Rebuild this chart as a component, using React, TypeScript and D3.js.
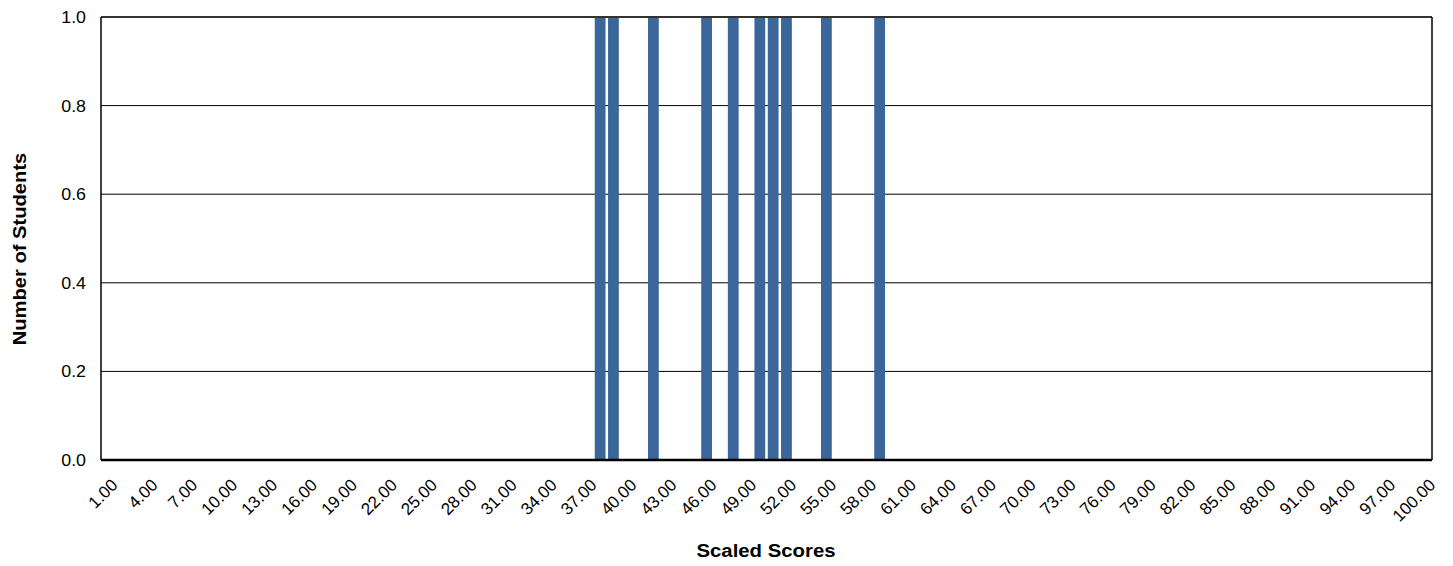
import React from "react";
import * as d3 from "d3";

const categories: number[] = Array.from({ length: 100 }, (_, i) => i + 1);
const barScores: number[] = [38, 39, 42, 46, 48, 50, 51, 52, 55, 59];
const barValues: number[] = [1, 1, 1, 1, 1, 1, 1, 1, 1, 1];
const yTicks: number[] = [0, 0.2, 0.4, 0.6, 0.8, 1.0];
const xTickLabels: number[] = categories.filter((c) => (c - 1) % 3 === 0);

const W = 1453;
const H = 566;
const M = { left: 101, right: 1432, top: 17, bottom: 460 };

export default function App() {
  const xc = d3.scaleBand<number>().domain(categories).range([M.left, M.right]);
  const y = d3.scaleLinear().domain([0, 1]).range([M.bottom, M.top]);
  const font = "'Liberation Sans', Arial, sans-serif";
  const barW = xc.bandwidth() * 0.81;

  return (
    <svg
      width={W}
      height={H}
      style={{ position: "absolute", left: 0, top: 0, background: "#fff" }}
      fontFamily={font}
    >
      {/* gridlines */}
      {yTicks.slice(1, -1).map((t) => (
        <line key={t} x1={M.left} x2={M.right} y1={y(t)} y2={y(t)} stroke="#000" strokeWidth={1} />
      ))}
      {/* bars */}
      {barScores.map((s, i) => (
        <rect
          key={s}
          x={xc(s)! + xc.bandwidth() / 2 - barW / 2}
          width={barW}
          y={y(barValues[i])}
          height={y(0) - y(barValues[i])}
          fill="#3b6699"
        />
      ))}
      {/* frame */}
      <line x1={M.left} x2={M.right} y1={M.top} y2={M.top} stroke="#333" strokeWidth={2} />
      <line x1={M.left} x2={M.left} y1={M.top} y2={M.bottom} stroke="#000" strokeWidth={1.5} />
      <line x1={M.right} x2={M.right} y1={M.top} y2={M.bottom} stroke="#000" strokeWidth={1.5} />
      <line x1={M.left} x2={M.right} y1={M.bottom} y2={M.bottom} stroke="#000" strokeWidth={2.5} />
      {/* y labels */}
      {yTicks.map((t) => (
        <text
          key={t}
          textAnchor="end"
          fontSize={16.5}
          fill="#000"
          dy="0.36em"
          transform={`translate(86 ${y(t)}) scale(1.08 1)`}
        >
          {t.toFixed(1)}
        </text>
      ))}
      {/* x labels */}
      {xTickLabels.map((c) => {
        const cx = xc(c)! + xc.bandwidth() / 2 + 11;
        const cy = 486;
        return (
          <text
            key={c}
            x={cx}
            y={cy}
            textAnchor="end"
            fontSize={17}
            fill="#000"
            transform={`rotate(-45 ${cx} ${cy})`}
          >
            {c.toFixed(2)}
          </text>
        );
      })}
      {/* axis titles */}
      <text
        textAnchor="middle"
        fontSize={18.5}
        fontWeight="bold"
        fill="#000"
        transform="translate(766 556.5) scale(1.1 1)"
      >
        Scaled Scores
      </text>
      <text
        textAnchor="middle"
        fontSize={18.5}
        fontWeight="bold"
        fill="#000"
        transform="translate(26 249) rotate(-90) scale(1.09 1)"
      >
        Number of Students
      </text>
    </svg>
  );
}
